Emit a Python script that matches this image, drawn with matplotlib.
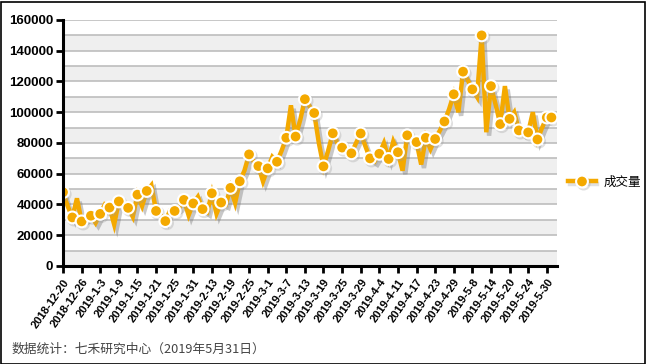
import matplotlib
matplotlib.use("Agg")
import matplotlib.pyplot as plt
import matplotlib.patheffects as pe
from matplotlib.patches import Rectangle

tick_labels = ["2018-12-20", "2018-12-26", "2019-1-3", "2019-1-9", "2019-1-15", "2019-1-21",
               "2019-1-25", "2019-1-31", "2019-2-13", "2019-2-19", "2019-2-25", "2019-3-1",
               "2019-3-7", "2019-3-13", "2019-3-19", "2019-3-25", "2019-3-29", "2019-4-4",
               "2019-4-11", "2019-4-17", "2019-4-23", "2019-4-29", "2019-5-8", "2019-5-14",
               "2019-5-20", "2019-5-24", "2019-5-30"]

volume_k = [48, 39, 31.6, 44, 29, 31, 32.7, 28, 33.9, 40,
            38, 27, 42, 40, 37.8, 32, 46.4, 39, 48.8, 52.5,
            35.8, 33, 29.2, 36, 35.8, 38, 43, 33, 40.7, 45,
            37, 35, 47.3, 34, 41.3, 40, 50.8, 41, 55.1, 62,
            72.6, 68, 65, 55, 63.5, 71, 67.8, 75, 83.4, 104.5,
            84.2, 95, 108.5, 104, 99.5, 80, 64.8, 75, 86.3, 80,
            77, 75, 73.3, 80, 86.2, 78, 70, 68, 73, 80,
            69.6, 81, 74, 62, 85, 84, 80.6, 66, 83.4, 76,
            82.6, 88, 94, 102, 111.7, 100, 126.4, 121, 114.9, 110,
            150, 87, 117, 105, 92.3, 117, 95.7, 100, 88.2, 86,
            86.9, 100, 82.3, 90, 96.6, 96.6]
volume = [v * 1000 for v in volume_k]
y_ticks = [0, 20000, 40000, 60000, 80000, 100000, 120000, 140000, 160000]
series_name = "成交量"
footer = "数据统计：七禾研究中心（2019年5月31日）"

W, H = 646, 364
fig = plt.figure(figsize=(W / 100, H / 100), dpi=100)
ax = fig.add_axes([63 / W, 1 - 266 / H, (557 - 63) / W, (266 - 20) / H])

n = len(volume)
ax.set_xlim(0, 106.2)
ax.set_ylim(0, 160000)

# alternating bands and grid lines
for k in range(0, 16):
    lo = k * 10000
    if k % 2 == 0:
        ax.axhspan(lo, lo + 10000, color="#efefef", zorder=0, lw=0)
for k in range(1, 17):
    ax.axhline(k * 10000, color="#bdbdbd", lw=1.2, zorder=1)

color = "#f4a900"
xs = list(range(n))
marks = list(range(0, n, 2)) + [n - 1]
line, = ax.plot(xs, volume, color=color, lw=3.2, solid_joinstyle="miter", zorder=3)
line.set_path_effects([pe.SimpleLineShadow(offset=(2, -2.5), shadow_color="#777777", alpha=0.4),
                       pe.Normal()])
mk, = ax.plot([xs[i] for i in marks], [volume[i] for i in marks], ls="none",
              marker="o", markersize=8.5, markerfacecolor=color,
              markeredgecolor="white", markeredgewidth=1.5, zorder=4)
mk.set_path_effects([pe.SimpleLineShadow(offset=(1.2, -1.5), shadow_color="#999999", alpha=0.3),
                     pe.Normal()])

# legend handle
hline, = ax.plot([], [], color=color, lw=3.2, marker="o", markersize=8.5,
                 markerfacecolor=color, markeredgecolor="white", markeredgewidth=1.5)
hline.set_path_effects([pe.SimpleLineShadow(offset=(1.2, -1.5), shadow_color="#999999", alpha=0.3),
                        pe.Normal()])

# axes styling
for s in ["top", "right"]:
    ax.spines[s].set_visible(False)
ax.spines["left"].set_linewidth(2.2)
ax.spines["bottom"].set_linewidth(2.2)
ax.spines["left"].set_zorder(5)
ax.spines["bottom"].set_zorder(5)

ax.set_yticks(y_ticks)
ax.set_yticklabels([str(v) for v in y_ticks], fontsize=9.5, fontweight="bold",
                   family="Liberation Sans")
ax.tick_params(axis="y", length=5, width=2, pad=2)

ax.set_xticks(list(range(0, n, 4))[:len(tick_labels)])
ax.set_xticklabels(tick_labels, rotation=55, ha="right", rotation_mode="anchor",
                   fontsize=8, fontweight="bold", family="Liberation Sans")
ax.tick_params(axis="x", length=5, width=2, pad=3)

# legend
leg = ax.legend([hline], [series_name], loc="center left", bbox_to_anchor=(1.0, 0.34),
                frameon=False, handlelength=2.2, handletextpad=0.6,
                prop={"family": ["Noto Sans CJK SC", "DejaVu Sans"], "size": 9})

fig.text(12 / W, 1 - 349 / H, footer, fontsize=9.2, color="#444444",
         family=["Noto Sans CJK SC", "DejaVu Sans"], va="center", ha="left")

fig.patches.append(Rectangle((0.5 / W, 0.5 / H), (W - 2) / W, (H - 2) / H,
                             transform=fig.transFigure, fill=False,
                             edgecolor="black", lw=1.2))

fig.savefig("out.png", dpi=100)
